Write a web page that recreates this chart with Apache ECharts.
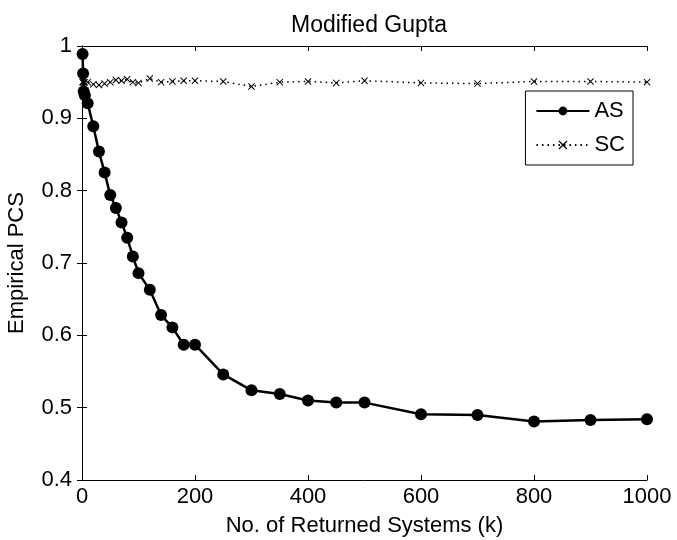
<!DOCTYPE html>
<html>
<head>
<meta charset="utf-8">
<script src="https://cdn.jsdelivr.net/npm/echarts@6/dist/echarts.min.js"></script>
<style>html,body{margin:0;padding:0;background:#fff}#c{width:677px;height:540px}</style>
</head>
<body>
<div id="c"></div>
<script>
var kAS = [1, 2, 3, 5, 10, 20, 30, 40, 50, 60, 70, 80, 90, 100, 120, 140, 160, 180, 200, 250, 300, 350, 400, 450, 500, 600, 700, 800, 900, 1000];
var valAS = [0.989, 0.962, 0.937, 0.932, 0.921, 0.889, 0.854, 0.825, 0.794, 0.776, 0.756, 0.735, 0.709, 0.686, 0.663, 0.628, 0.611, 0.587, 0.587, 0.546, 0.524, 0.519, 0.510, 0.507, 0.507, 0.491, 0.490, 0.481, 0.483, 0.484];
var kSC = [1, 2, 3, 5, 10, 20, 30, 40, 50, 60, 70, 80, 90, 100, 120, 140, 160, 180, 200, 250, 300, 350, 400, 450, 500, 600, 700, 800, 900, 1000];
var valSC = [0.950, 0.951, 0.949, 0.950, 0.950, 0.947, 0.946, 0.948, 0.950, 0.953, 0.952, 0.954, 0.950, 0.949, 0.955, 0.950, 0.951, 0.952, 0.952, 0.951, 0.944, 0.950, 0.951, 0.949, 0.952, 0.949, 0.948, 0.951, 0.951, 0.950];
var titleText = 'Modified Gupta';
var xName = 'No. of Returned Systems (k)';
var yName = 'Empirical PCS';

function pairs(xs, ys) { return xs.map(function (x, i) { return [x, ys[i]]; }); }

var FONT = 'Liberation Sans';
var crossPath = 'path://M0,1L1,0L5,4L9,0L10,1L6,5L10,9L9,10L5,6L1,10L0,9L4,5Z';
var chart = echarts.init(document.getElementById('c'));
var axisLine = { show: true, lineStyle: { color: '#000', width: 1 } };
chart.setOption({
  animation: false,
  backgroundColor: '#fff',
  textStyle: { fontFamily: FONT },
  title: { text: titleText, left: 364, top: 9, textAlign: 'center',
    textStyle: { fontFamily: FONT, fontSize: 23, fontWeight: 'normal', color: '#000' } },
  grid: { left: 82, right: 30, top: 46, bottom: 60, containLabel: false, outerBoundsMode: 'none' },
  legend: {
    orient: 'vertical', right: 44, top: 91,
    data: ['AS', 'SC'],
    itemWidth: 53, itemHeight: 11, itemGap: 12,
    borderColor: '#000', borderWidth: 1, borderRadius: 0,
    backgroundColor: '#fff', padding: [9, 8, 9, 10],
    textStyle: { fontFamily: FONT, fontSize: 22, color: '#000' }
  },
  xAxis: [{
    type: 'value', min: 0, max: 1000, interval: 200,
    name: xName, nameLocation: 'middle', nameGap: 35,
    nameTextStyle: { fontFamily: FONT, fontSize: 22, color: '#000' },
    axisLine: axisLine, axisTick: { inside: true, length: 5, lineStyle: { color: '#000' } },
    axisLabel: { color: '#000', fontSize: 22, fontFamily: FONT, margin: 6,
      formatter: function (v) { return String(v); } },
    splitLine: { show: false }
  }, {
    type: 'value', min: 0, max: 1000, interval: 200, position: 'top',
    axisLine: axisLine, axisTick: { inside: true, length: 5, lineStyle: { color: '#000' } },
    axisLabel: { show: false }, splitLine: { show: false }
  }],
  yAxis: [{
    type: 'value', min: 0.4, max: 1, interval: 0.1,
    name: yName, nameLocation: 'middle', nameGap: 54, nameRotate: 90,
    nameTextStyle: { fontFamily: FONT, fontSize: 22, color: '#000' },
    axisLine: axisLine, axisTick: { inside: true, length: 5, lineStyle: { color: '#000' } },
    axisLabel: { color: '#000', fontSize: 22, fontFamily: FONT, margin: 10,
      formatter: function (v) { return String(Math.round(v * 10) / 10); } },
    splitLine: { show: false }
  }, {
    type: 'value', min: 0.4, max: 1, interval: 0.1, position: 'right',
    axisLine: axisLine, axisTick: { inside: true, length: 5, lineStyle: { color: '#000' } },
    axisLabel: { show: false }, splitLine: { show: false }
  }],
  series: [{
    name: 'AS', type: 'line', data: pairs(kAS, valAS),
    symbol: 'circle', symbolSize: 12,
    itemStyle: { color: '#000' },
    lineStyle: { color: '#000', width: 2.5 }
  }, {
    name: 'SC', type: 'line', data: pairs(kSC, valSC),
    symbol: crossPath, symbolSize: 7,
    itemStyle: { color: '#000' },
    lineStyle: { color: '#000', width: 1.5, type: [1.5, 4] }
  }]
});
</script>
</body>
</html>
